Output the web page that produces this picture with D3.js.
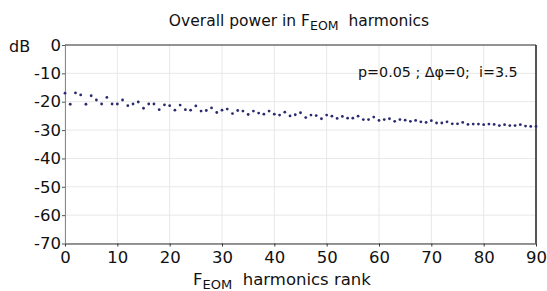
<!DOCTYPE html>
<html>
<head>
<meta charset="utf-8">
<script src="https://cdn.jsdelivr.net/npm/d3@7"></script>
<style>
  body { margin: 0; background: #fff; }
  text { font-family: "DejaVu Sans", sans-serif; fill: #111; }
</style>
</head>
<body>
<div id="chart"></div>
<script>
// harmonics rank 0..90, overall power in dB
const ranks = d3.range(0, 91);
const power = [
  -17.0, -20.9, -16.9, -17.6, -20.9, -17.9, -19.4, -20.8, -18.5, -20.8,
  -20.8, -19.4, -21.4, -20.8, -20.1, -22.3, -20.8, -20.8, -22.8, -21.1,
  -21.4, -23.0, -21.2, -22.8, -23.0, -21.5, -23.3, -23.1, -22.2, -23.8,
  -23.0, -22.6, -24.2, -23.1, -23.3, -24.5, -23.3, -24.0, -24.4, -23.3,
  -24.4, -24.7, -23.7, -25.0, -24.6, -23.9, -25.6, -24.7, -24.9, -26.0,
  -24.7, -25.1, -25.9, -25.2, -25.8, -25.8, -25.1, -26.3, -26.3, -25.4,
  -26.6, -26.3, -26.0, -26.9, -26.3, -26.5, -26.9, -26.6, -27.1, -27.3,
  -26.7, -27.5, -27.5, -27.1, -27.8, -27.8, -27.3, -28.0, -27.9, -27.9,
  -28.1, -27.9, -28.0, -28.4, -28.1, -28.4, -28.4, -28.1, -28.6, -28.7,
  -28.7
];
const xTicks = d3.range(0, 91, 10);
const yTicks = d3.range(-70, 1, 10);

const width = 547, height = 291;
const plot = {left: 65, right: 536, top: 45, bottom: 243.5};

const svg = d3.select('#chart').append('svg')
  .attr('width', width)
  .attr('height', height);

const x = d3.scaleLinear().domain([0, 90]).range([plot.left, plot.right]);
const y = d3.scaleLinear().domain([-70, 0]).range([plot.bottom, plot.top]);

// grid
svg.append('g').selectAll('line')
  .data(xTicks).enter().append('line')
  .attr('x1', d => x(d)).attr('x2', d => x(d))
  .attr('y1', plot.top).attr('y2', plot.bottom)
  .attr('stroke', '#e8e8e8').attr('stroke-width', 1);
svg.append('g').selectAll('line')
  .data(yTicks).enter().append('line')
  .attr('x1', plot.left).attr('x2', plot.right)
  .attr('y1', d => y(d)).attr('y2', d => y(d))
  .attr('stroke', '#e8e8e8').attr('stroke-width', 1);

// axes (plain hyphen for negatives, like the original)
const fmt = d => String(d);

const xAxis = svg.append('g')
  .attr('transform', `translate(0,${plot.bottom})`)
  .call(d3.axisBottom(x).tickValues(xTicks).tickFormat(fmt).tickSize(3).tickPadding(5).tickSizeOuter(0));
xAxis.select('.domain').attr('stroke', '#333');
xAxis.selectAll('.tick line').attr('stroke', '#333');
xAxis.selectAll('text').attr('font-size', 16.5).attr('fill', '#111');

const yAxis = svg.append('g')
  .attr('transform', `translate(${plot.left},0)`)
  .call(d3.axisLeft(y).tickValues(yTicks).tickFormat(fmt).tickSize(3).tickPadding(1).tickSizeOuter(0));
yAxis.select('.domain').attr('stroke', '#888');
yAxis.selectAll('.tick line').attr('stroke', '#555');
yAxis.selectAll('text').attr('font-size', 16.5).attr('fill', '#111');

// top and right frame
svg.append('line').attr('x1', plot.left).attr('x2', plot.right).attr('y1', plot.top).attr('y2', plot.top)
  .attr('stroke', '#333').attr('stroke-width', 1.2);
svg.append('line').attr('x1', plot.right).attr('x2', plot.right).attr('y1', plot.top).attr('y2', plot.bottom)
  .attr('stroke', '#222').attr('stroke-width', 1.5);

// dots
svg.append('g').selectAll('circle')
  .data(ranks).enter().append('circle')
  .attr('cx', d => x(d))
  .attr('cy', (d, i) => y(power[i]))
  .attr('r', 1.4)
  .attr('fill', '#2a2a70');

// texts
const title = svg.append('text').attr('x', 299).attr('y', 26)
  .attr('text-anchor', 'middle').attr('font-size', 15.5);
title.append('tspan').text('Overall power in F');
title.append('tspan').attr('font-size', 12.5).attr('dy', 4).text('EOM');
title.append('tspan').attr('dy', -4).text('\u00a0 harmonics');

svg.append('text').attr('x', 9).attr('y', 52).attr('font-size', 16).text('dB');

const xl = svg.append('text').attr('x', 282).attr('y', 285)
  .attr('text-anchor', 'middle').attr('font-size', 16.5);
xl.append('tspan').text('F');
xl.append('tspan').attr('font-size', 13).attr('dy', 4).text('EOM');
xl.append('tspan').attr('dy', -4).text('\u00a0 harmonics rank');

svg.append('text').attr('x', 358).attr('y', 77).attr('font-size', 14.3)
  .text('p=0.05 ; \u0394\u03c6=0;\u00a0 i=3.5');
</script>
</body>
</html>
